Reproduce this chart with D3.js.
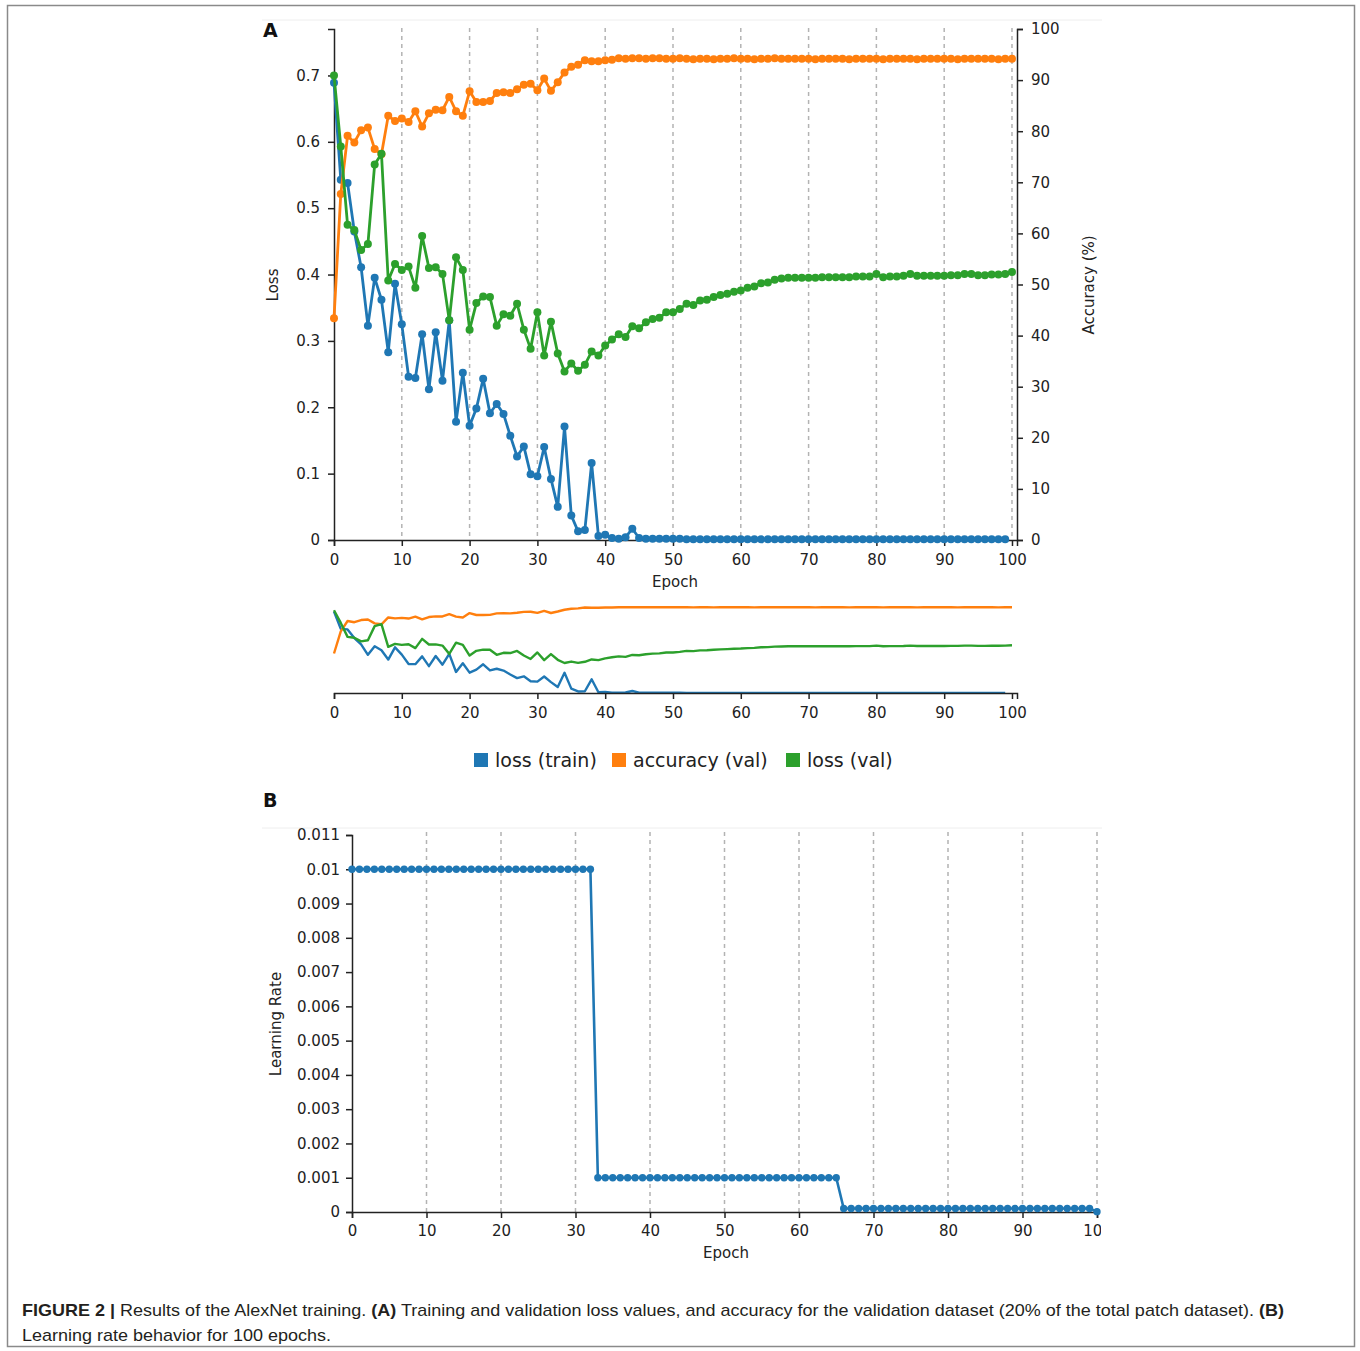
<!DOCTYPE html>
<html>
<head>
<meta charset="utf-8">
<script src="https://cdn.jsdelivr.net/npm/d3@7"></script>
<style>
  body { margin: 0; background: #ffffff; }
  svg text { font-family: 'DejaVu Sans', sans-serif; }
</style>
</head>
<body>
<div id="graf"></div>
<script>
// Figura 2: entrenamiento de AlexNet
// A) loss (train), accuracy (val), loss (val) por epoch + navegador pequeño
// B) learning rate por epoch

// Datos (índice = epoch)
lossTrain = [
  0.689, 0.543, 0.538, 0.465, 0.411, 0.323, 0.395, 0.362, 0.283, 0.386,
  0.325, 0.246, 0.244, 0.310, 0.227, 0.313, 0.240, 0.331, 0.178, 0.252,
  0.172, 0.198, 0.243, 0.191, 0.205, 0.190, 0.157, 0.126, 0.141, 0.099,
  0.096, 0.140, 0.092, 0.050, 0.171, 0.037, 0.013, 0.015, 0.116, 0.006,
  0.008, 0.003, 0.002, 0.004, 0.017, 0.003, 0.002, 0.002, 0.002, 0.002,
  0.002, 0.002, 0.001, 0.001, 0.001, 0.001, 0.001, 0.001, 0.001, 0.001,
  0.001, 0.001, 0.001, 0.001, 0.001, 0.001, 0.001, 0.001, 0.001, 0.001,
  0.001, 0.001, 0.001, 0.001, 0.001, 0.001, 0.001, 0.001, 0.001, 0.001,
  0.001, 0.001, 0.001, 0.001, 0.001, 0.001, 0.001, 0.001, 0.001, 0.001,
  0.001, 0.001, 0.001, 0.001, 0.001, 0.001, 0.001, 0.001, 0.001, 0.001
]

accVal = [
  43.4, 67.7, 79.1, 77.8, 80.2, 80.7, 76.5, 75.5, 83.0, 82.0,
  82.5, 81.8, 83.9, 80.9, 83.5, 84.2, 84.1, 86.7, 83.9, 83.0,
  87.8, 85.7, 85.7, 85.9, 87.5, 87.6, 87.5, 88.2, 89.1, 89.3,
  88.0, 90.3, 87.9, 89.6, 91.5, 92.6, 93.0, 93.9, 93.7, 93.7,
  93.9, 94.0, 94.3, 94.2, 94.3, 94.3, 94.2, 94.3, 94.3, 94.2,
  94.2, 94.3, 94.2, 94.1, 94.2, 94.2, 94.1, 94.2, 94.2, 94.3,
  94.2, 94.2, 94.1, 94.2, 94.2, 94.3, 94.2, 94.2, 94.2, 94.2,
  94.2, 94.1, 94.2, 94.2, 94.2, 94.2, 94.1, 94.2, 94.2, 94.2,
  94.2, 94.1, 94.2, 94.2, 94.2, 94.2, 94.1, 94.2, 94.2, 94.2,
  94.2, 94.2, 94.1, 94.2, 94.2, 94.2, 94.2, 94.2, 94.1, 94.2,
  94.2
]

lossVal = [
  0.700, 0.593, 0.475, 0.467, 0.437, 0.446, 0.566, 0.582, 0.391, 0.416,
  0.407, 0.412, 0.380, 0.458, 0.410, 0.411, 0.401, 0.331, 0.426, 0.407,
  0.317, 0.357, 0.367, 0.366, 0.323, 0.340, 0.338, 0.356, 0.317, 0.288,
  0.343, 0.278, 0.329, 0.281, 0.254, 0.266, 0.255, 0.264, 0.284, 0.278,
  0.293, 0.302, 0.310, 0.306, 0.322, 0.319, 0.328, 0.333, 0.335, 0.343,
  0.343, 0.348, 0.356, 0.354, 0.361, 0.362, 0.366, 0.369, 0.371, 0.374,
  0.376, 0.380, 0.382, 0.387, 0.388, 0.392, 0.394, 0.395, 0.395, 0.395,
  0.395, 0.395, 0.396, 0.396, 0.396, 0.396, 0.396, 0.397, 0.397, 0.397,
  0.401, 0.396, 0.397, 0.397, 0.398, 0.401, 0.398, 0.398, 0.398, 0.398,
  0.398, 0.399, 0.399, 0.401, 0.401, 0.399, 0.399, 0.400, 0.400, 0.401,
  0.404
]

learningRate = [
  0.01, 0.01, 0.01, 0.01, 0.01, 0.01, 0.01, 0.01, 0.01, 0.01,
  0.01, 0.01, 0.01, 0.01, 0.01, 0.01, 0.01, 0.01, 0.01, 0.01,
  0.01, 0.01, 0.01, 0.01, 0.01, 0.01, 0.01, 0.01, 0.01, 0.01,
  0.01, 0.01, 0.01, 0.001, 0.001, 0.001, 0.001, 0.001, 0.001, 0.001,
  0.001, 0.001, 0.001, 0.001, 0.001, 0.001, 0.001, 0.001, 0.001, 0.001,
  0.001, 0.001, 0.001, 0.001, 0.001, 0.001, 0.001, 0.001, 0.001, 0.001,
  0.001, 0.001, 0.001, 0.001, 0.001, 0.001, 0.0001, 0.0001, 0.0001, 0.0001,
  0.0001, 0.0001, 0.0001, 0.0001, 0.0001, 0.0001, 0.0001, 0.0001, 0.0001, 0.0001,
  0.0001, 0.0001, 0.0001, 0.0001, 0.0001, 0.0001, 0.0001, 0.0001, 0.0001, 0.0001,
  0.0001, 0.0001, 0.0001, 0.0001, 0.0001, 0.0001, 0.0001, 0.0001, 0.0001, 0.0001,
  0.00001
]

epochTicks = [0, 10, 20, 30, 40, 50, 60, 70, 80, 90, 100]
lossTicks  = [0, 0.1, 0.2, 0.3, 0.4, 0.5, 0.6, 0.7]
accTicks   = [0, 10, 20, 30, 40, 50, 60, 70, 80, 90, 100]
lrTicks    = [0, 0.001, 0.002, 0.003, 0.004, 0.005, 0.006, 0.007, 0.008, 0.009, 0.01, 0.011]

seriesNames  = ['loss (train)', 'accuracy (val)', 'loss (val)']
seriesColors = ['#1f77b4', '#ff7f0e', '#2ca02c']

// I. Configuración
ancho_total = 1360
alto_total  = 1351

svg = d3.select('#graf').append('svg')
        .attr('width', ancho_total)
        .attr('height', alto_total)

// marco de la figura
svg.append('rect')
  .attr('x', 7.5).attr('y', 5.5)
  .attr('width', 1347).attr('height', 1341)
  .attr('fill', 'none')
  .attr('stroke', '#8a8a8a')
  .attr('stroke-width', 1.5)

// líneas tenues superiores de cada panel
svg.append('line').attr('x1', 262).attr('x2', 1102).attr('y1', 20).attr('y2', 20)
  .attr('stroke', '#eeeeee')
svg.append('line').attr('x1', 262).attr('x2', 1102).attr('y1', 828).attr('y2', 828)
  .attr('stroke', '#eeeeee')

// escaladores panel A
x  = d3.scaleLinear().domain([0, 100.74]).range([334, 1017])
yL = d3.scaleLinear().domain([0, 0.77]).range([540, 29])
yR = d3.scaleLinear().domain([0, 100]).range([540, 29])

// escaladores navegador
yLm = d3.scaleLinear().domain([0, 0.77]).range([693, 602])
yRm = d3.scaleLinear().domain([0, 100]).range([693, 602])

// escaladores panel B
xB = d3.scaleLinear().domain([0, 100]).range([352, 1097])
yB = d3.scaleLinear().domain([0, 0.011]).range([1212, 835])

function estiloEje(g) {
  g.attr('font-family', 'DejaVu Sans').attr('font-size', 15)
  g.selectAll('text').attr('fill', '#222')
  g.selectAll('path, line').attr('stroke', '#222').attr('stroke-width', 1.5)
}

// ---------------- Panel A ----------------
gA = svg.append('g')

// rejilla vertical punteada
gA.selectAll('.gridA')
  .data(epochTicks.filter(d => d > 0))
  .enter().append('line')
    .attr('x1', d => x(d)).attr('x2', d => x(d))
    .attr('y1', 28).attr('y2', 540)
    .attr('stroke', '#b3b3b3')
    .attr('stroke-width', 1.5)
    .attr('stroke-dasharray', '4,4')

gA.append('g')
  .attr('transform', 'translate(0,540)')
  .call(d3.axisBottom(x).tickValues(epochTicks).tickSize(6).tickPadding(8))
  .call(estiloEje)

gA.append('g')
  .attr('transform', 'translate(334,0)')
  .call(d3.axisLeft(yL).tickValues(lossTicks).tickSize(6).tickPadding(8)
          .tickFormat(d => d === 0 ? '0' : d3.format('.1f')(d)))
  .call(estiloEje)

gA.append('g')
  .attr('transform', 'translate(1017,0)')
  .call(d3.axisRight(yR).tickValues(accTicks).tickSize(6).tickPadding(8))
  .call(estiloEje)

seriesA = [
  { vals: lossTrain, y: yL, ym: yLm, color: seriesColors[0] },
  { vals: accVal,    y: yR, ym: yRm, color: seriesColors[1] },
  { vals: lossVal,   y: yL, ym: yLm, color: seriesColors[2] }
]

seriesA.forEach(s => {
  linea = d3.line().x((d, i) => x(i)).y(d => s.y(d))
  gA.append('path')
    .attr('d', linea(s.vals))
    .attr('fill', 'none')
    .attr('stroke', s.color)
    .attr('stroke-width', 2.8)
    .attr('stroke-linejoin', 'round')
  gA.append('g').selectAll('circle')
    .data(s.vals)
    .enter().append('circle')
      .attr('cx', (d, i) => x(i))
      .attr('cy', d => s.y(d))
      .attr('r', 4)
      .attr('fill', s.color)
})

gA.append('text')
  .attr('x', 675).attr('y', 587)
  .attr('text-anchor', 'middle')
  .attr('font-size', 15)
  .attr('fill', '#222')
  .text('Epoch')

gA.append('text')
  .attr('transform', 'translate(278,285) rotate(-90)')
  .attr('text-anchor', 'middle')
  .attr('font-size', 15)
  .attr('fill', '#222')
  .text('Loss')

gA.append('text')
  .attr('transform', 'translate(1094,285) rotate(-90)')
  .attr('text-anchor', 'middle')
  .attr('font-size', 15)
  .attr('fill', '#222')
  .text('Accuracy (%)')

svg.append('text')
  .attr('x', 263).attr('y', 37)
  .attr('font-size', 19)
  .attr('font-weight', 'bold')
  .attr('fill', '#111')
  .text('A')

// navegador (vista completa sin puntos)
gM = svg.append('g')
seriesA.forEach(s => {
  lineaM = d3.line().x((d, i) => x(i)).y(d => s.ym(d))
  gM.append('path')
    .attr('d', lineaM(s.vals))
    .attr('fill', 'none')
    .attr('stroke', s.color)
    .attr('stroke-width', 2.4)
    .attr('stroke-linejoin', 'round')
})

gM.append('g')
  .attr('transform', 'translate(0,693)')
  .call(d3.axisBottom(x).tickValues(epochTicks).tickSize(6).tickPadding(8))
  .call(estiloEje)

// leyenda
leyendaX = [474, 612, 786]
seriesNames.forEach((d, i) => {
  svg.append('rect')
    .attr('x', leyendaX[i]).attr('y', 753)
    .attr('width', 14).attr('height', 14)
    .attr('fill', seriesColors[i])
  svg.append('text')
    .attr('x', leyendaX[i] + 21).attr('y', 767)
    .attr('font-size', 19)
    .attr('fill', '#222')
    .text(d)
})

// ---------------- Panel B ----------------
svg.append('clipPath')
  .attr('id', 'clipB')
  .append('rect')
    .attr('x', 0).attr('y', 800)
    .attr('width', 1101).attr('height', 480)

gB = svg.append('g').attr('clip-path', 'url(#clipB)')

gB.selectAll('.gridB')
  .data(epochTicks.filter(d => d > 0))
  .enter().append('line')
    .attr('x1', d => xB(d)).attr('x2', d => xB(d))
    .attr('y1', 832).attr('y2', 1212)
    .attr('stroke', '#b3b3b3')
    .attr('stroke-width', 1.5)
    .attr('stroke-dasharray', '4,4')

gB.append('g')
  .attr('transform', 'translate(0,1212)')
  .call(d3.axisBottom(xB).tickValues(epochTicks).tickSize(6).tickPadding(7))
  .call(estiloEje)

gB.append('g')
  .attr('transform', 'translate(352,0)')
  .call(d3.axisLeft(yB).tickValues(lrTicks).tickSize(6).tickPadding(6)
          .tickFormat(d => String(+d.toFixed(3))))
  .call(estiloEje)

lineaB = d3.line().x((d, i) => xB(i)).y(d => yB(d))
gB.append('path')
  .attr('d', lineaB(learningRate))
  .attr('fill', 'none')
  .attr('stroke', seriesColors[0])
  .attr('stroke-width', 2.6)

gB.append('g').selectAll('circle')
  .data(learningRate)
  .enter().append('circle')
    .attr('cx', (d, i) => xB(i))
    .attr('cy', d => yB(d))
    .attr('r', 3.7)
    .attr('fill', seriesColors[0])

gB.append('text')
  .attr('x', 726).attr('y', 1258)
  .attr('text-anchor', 'middle')
  .attr('font-size', 15)
  .attr('fill', '#222')
  .text('Epoch')

gB.append('text')
  .attr('transform', 'translate(281,1024) rotate(-90)')
  .attr('text-anchor', 'middle')
  .attr('font-size', 15)
  .attr('fill', '#222')
  .text('Learning Rate')

svg.append('text')
  .attr('x', 263).attr('y', 807)
  .attr('font-size', 19)
  .attr('font-weight', 'bold')
  .attr('fill', '#111')
  .text('B')

// ---------------- Pie de figura ----------------
cap1 = svg.append('text')
  .attr('x', 22).attr('y', 1316)
  .attr('font-size', 17)
  .attr('fill', '#231f20')
  .attr('textLength', 1262)
  .attr('lengthAdjust', 'spacingAndGlyphs')
  .style('font-family', "'Liberation Sans', Arial, sans-serif")
cap1.append('tspan').attr('font-weight', 'bold').text('FIGURE 2 | ')
cap1.append('tspan').text('Results of the AlexNet training. ')
cap1.append('tspan').attr('font-weight', 'bold').text('(A)')
cap1.append('tspan').text(' Training and validation loss values, and accuracy for the validation dataset (20% of the total patch dataset). ')
cap1.append('tspan').attr('font-weight', 'bold').text('(B)')

svg.append('text')
  .attr('x', 22).attr('y', 1341)
  .attr('font-size', 17)
  .attr('fill', '#231f20')
  .attr('textLength', 309)
  .attr('lengthAdjust', 'spacingAndGlyphs')
  .style('font-family', "'Liberation Sans', Arial, sans-serif")
  .text('Learning rate behavior for 100 epochs.')
</script>
</body>
</html>
